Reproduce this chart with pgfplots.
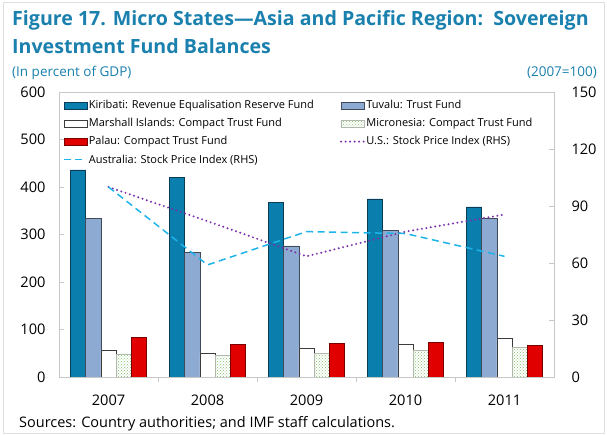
\documentclass[border=0pt]{standalone}
\usepackage{pgfplots}
\pgfplotsset{compat=1.18}
\usepackage{fontspec}
\setmainfont{Open Sans}
\usetikzlibrary{patterns}
\definecolor{titleblue}{HTML}{1A80AE}
\definecolor{kir}{HTML}{0A7EAD}
\definecolor{kiredge}{HTML}{0C3B55}
\definecolor{tuv}{HTML}{8DAAD2}
\definecolor{tuvedge}{HTML}{404B5A}
\definecolor{mar}{HTML}{FFFFFF}
\definecolor{maredge}{HTML}{3C3C3C}
\definecolor{micdot}{HTML}{86C070}
\definecolor{micedge}{HTML}{B0B8AC}
\definecolor{pal}{HTML}{E00000}
\definecolor{paledge}{HTML}{7A0000}
\definecolor{usline}{HTML}{7B2FA8}
\definecolor{ausline}{HTML}{1EB4EA}
\definecolor{axgray}{HTML}{C8C8C8}
\pgfplotsset{
  boxlegend/.style={legend image code/.code={\draw[##1] (0pt,-3.5pt) rectangle (23pt,3.5pt);}},
  linelegend/.style={legend image code/.code={\draw[##1] (0pt,0pt) -- (23pt,0pt);}},
}
\begin{document}
\begin{tikzpicture}[x=1pt,y=1pt]
\useasboundingbox (0,0) rectangle (607,435);
\draw[gray!25, line width=0.8pt] (3,2) rectangle (604,433);
\node[anchor=base west, text=titleblue, font=\fontsize{19.6}{22}\selectfont\bfseries, inner sep=0pt] at (12,409) {Figure 17. Micro States—Asia and Pacific Region:\ \ Sovereign};
\node[anchor=base west, text=titleblue, font=\fontsize{19.6}{22}\selectfont\bfseries, inner sep=0pt] at (12,381) {Investment Fund Balances};
\node[anchor=base west, text=titleblue, font=\fontsize{13.5}{15}\selectfont, inner sep=0pt] at (12,358) {(In percent of GDP)};
\node[anchor=base east, text=titleblue, font=\fontsize{13.5}{15}\selectfont, inner sep=0pt] at (597,358) {(2007=100)};
\node[anchor=base west, font=\fontsize{14.5}{16}\selectfont, inner sep=0pt] at (19,7) {Sources: Country authorities; and IMF staff calculations.};
\begin{axis}[
  at={(59pt,58pt)}, anchor=south west, scale only axis,
  width=495pt, height=285pt,
  xmin=-0.5, xmax=4.5, ymin=0, ymax=600,
  ytick={0,100,...,600},
  xtick={0,1,2,3,4}, xticklabels={2007,2008,2009,2010,2011},
  minor xtick={0.5,1.5,2.5,3.5},
  major x tick style={draw=none},
  xtick pos=bottom, ytick pos=left,
  axis line style={draw=axgray, line width=0.8pt},
  tick style={draw=axgray, line width=0.8pt},
  tick align=inside, major tick length=5pt, minor tick length=5pt,
  /pgf/number format/assume math mode=true,
  ticklabel style={font=\fontsize{14.6}{16}\selectfont},
  yticklabel style={xshift=-10pt},
  xticklabel style={yshift=-9pt},
  ybar=0pt, bar width=15.3pt,
  legend columns=2, legend cell align=left,
  legend style={at={(0.008,0.975)}, anchor=north west, draw=none, fill=none,
    font=\fontsize{11}{13}\selectfont, inner sep=0pt, row sep=5.8pt,
    nodes={inner sep=1.2pt}, /tikz/column 2/.style={column sep=25pt}},
]
\addplot[boxlegend, fill=kir, draw=kiredge, line width=0.7pt] coordinates {(0,436)(1,421)(2,368)(3,375)(4,358)};
\addlegendentry{Kiribati: Revenue Equalisation Reserve Fund}
\addplot[boxlegend, fill=tuv, draw=tuvedge, line width=0.7pt] coordinates {(0,333)(1,262)(2,276)(3,308)(4,333)};
\addlegendentry{Tuvalu: Trust Fund}
\addplot[boxlegend, fill=mar, draw=maredge, line width=0.7pt] coordinates {(0,57)(1,50)(2,61)(3,69)(4,82)};
\addlegendentry{Marshall Islands: Compact Trust Fund}
\addplot[boxlegend, fill=white, draw=micedge, line width=0.7pt, postaction={pattern=crosshatch dots, pattern color=micdot}] coordinates {(0,48)(1,46)(2,50)(3,57)(4,63)};
\addlegendentry{Micronesia: Compact Trust Fund}
\addplot[boxlegend, fill=pal, draw=paledge, line width=0.7pt] coordinates {(0,84)(1,68)(2,71)(3,72)(4,67)};
\addlegendentry{Palau: Compact Trust Fund}
\addlegendimage{linelegend, draw=usline, line width=2.2pt, line cap=round, dash pattern=on 0pt off 4.5pt}
\addlegendentry{U.S.: Stock Price Index (RHS)}
\addlegendimage{linelegend, draw=ausline, line width=1.5pt, dash pattern=on 7pt off 4.5pt}
\addlegendentry{Australia: Stock Price Index (RHS)}
\end{axis}
\begin{axis}[
  at={(59pt,58pt)}, anchor=south west, scale only axis,
  width=495pt, height=285pt,
  xmin=-0.5, xmax=4.5, ymin=0, ymax=150,
  ytick={0,30,...,150},
  axis x line=none, axis y line=right,
  axis line style={-, draw=axgray, line width=0.8pt},
  tick style={draw=axgray, line width=0.8pt},
  tick align=inside, major tick length=5pt,
  /pgf/number format/assume math mode=true,
  ticklabel style={font=\fontsize{14.6}{16}\selectfont},
  yticklabel style={xshift=14pt},
]
\addplot[usline, line width=2.2pt, line cap=round, dash pattern=on 0pt off 4.5pt, mark=none] coordinates {(0,100)(1,82)(2,63.5)(3,76.5)(4,85.5)};
\addplot[ausline, line width=1.5pt, dash pattern=on 7pt off 4.5pt, mark=none] coordinates {(0,100)(1,59)(2,76.5)(3,75.5)(4,63.5)};
\end{axis}
\end{tikzpicture}
\end{document}
